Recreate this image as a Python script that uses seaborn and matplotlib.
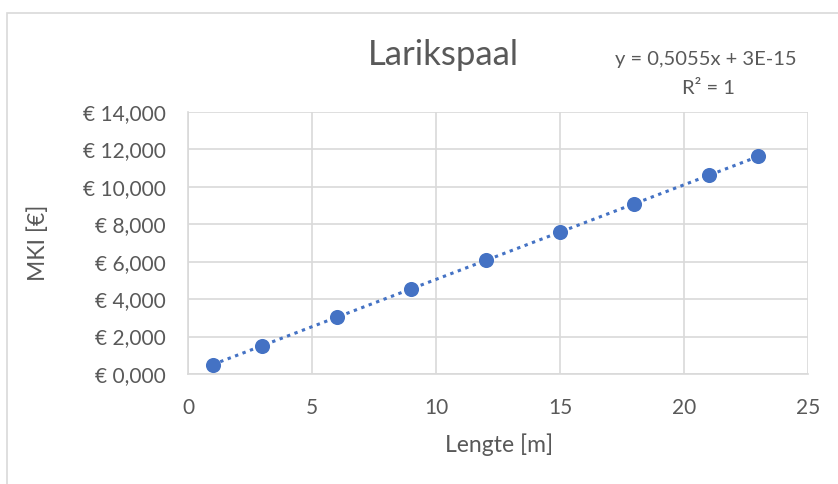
import numpy as np
import pandas as pd
import matplotlib
matplotlib.use("Agg")
import matplotlib.pyplot as plt
import seaborn as sns
from matplotlib.patches import Rectangle
from matplotlib.ticker import FuncFormatter

# Length of pole [m] and cost indicator [€]
lengte = [1, 3, 6, 9, 12, 15, 18, 21, 23]
mki = [0.5055, 1.5165, 3.033, 4.5495, 6.066, 7.5825, 9.099, 10.6155, 11.6265]
x_ticks = [0, 5, 10, 15, 20, 25]
y_ticks = [0, 2, 4, 6, 8, 10, 12, 14]

df = pd.DataFrame({"Lengte": lengte, "MKI": mki})

sns.set_theme(style="white")
plt.rcParams["font.family"] = ["Lato", "DejaVu Sans"]

txt = "#595959"
grid = "#d9d9d9"
blue = "#4472C4"

fig = plt.figure(figsize=(8.38, 4.84), dpi=100)
W, H = 838, 484
ax = fig.add_axes([188 / W, 1 - 374 / H, (808 - 188) / W, (374 - 112) / H])

# Linear trendline through the data
slope, intercept = np.polyfit(df["Lengte"], df["MKI"], 1)
trend = pd.DataFrame({"Lengte": [min(lengte), max(lengte)]})
trend["MKI"] = slope * trend["Lengte"] + intercept
sns.lineplot(data=trend, x="Lengte", y="MKI", ax=ax, color=blue,
             linestyle=(0, (1.1, 1.5)), linewidth=2.2, zorder=3)

sns.scatterplot(data=df, x="Lengte", y="MKI", ax=ax, color=blue, s=118,
                edgecolor=blue, linewidth=0, zorder=4)

ax.set_xlim(0, 25)
ax.set_ylim(0, 14)
ax.set_xticks(x_ticks)
ax.set_yticks(y_ticks)
ax.yaxis.set_major_formatter(FuncFormatter(
    lambda v, p: "€ " + f"{v:,.3f}".replace(".", "#").replace(",", ".").replace("#", ",")))
ax.grid(True, color=grid, linewidth=1.2)
ax.set_axisbelow(True)
for side in ["top", "right"]:
    ax.spines[side].set_visible(False)
for side in ["left", "bottom"]:
    ax.spines[side].set_color(grid)
    ax.spines[side].set_linewidth(1.2)
ax.tick_params(axis="both", colors=txt, labelsize=15, length=0)
ax.tick_params(axis="y", pad=16)
ax.tick_params(axis="x", pad=17)
ax.set_xlabel("Lengte [m]", color=txt, fontsize=16.5)
ax.set_ylabel("MKI [€]", color=txt, fontsize=16.5)
ax.xaxis.set_label_coords((499 - 188) / 620, (374 - 445) / 262)
ax.xaxis.label.set_va("center")
ax.yaxis.set_label_coords((38 - 188) / 620, (374 - 243) / 262)
ax.yaxis.label.set_va("center")

fig.text(443 / W, 1 - 55 / H, "Larikspaal", color=txt, fontsize=25,
         ha="center", va="center")
fig.text(706 / W, 1 - 60 / H, "y = 0,5055x + 3E-15", color=txt, fontsize=14.5,
         ha="center", va="center")
fig.text(708 / W, 1 - 89 / H, "R² = 1", color=txt, fontsize=14.5,
         ha="center", va="center")

# Chart frame
fig.patches.append(Rectangle((7 / W, -0.1), 1.1, 1 - 13 / H + 0.1,
                             transform=fig.transFigure, fill=False,
                             edgecolor=grid, linewidth=1.2))

fig.savefig("out.png", dpi=100)
